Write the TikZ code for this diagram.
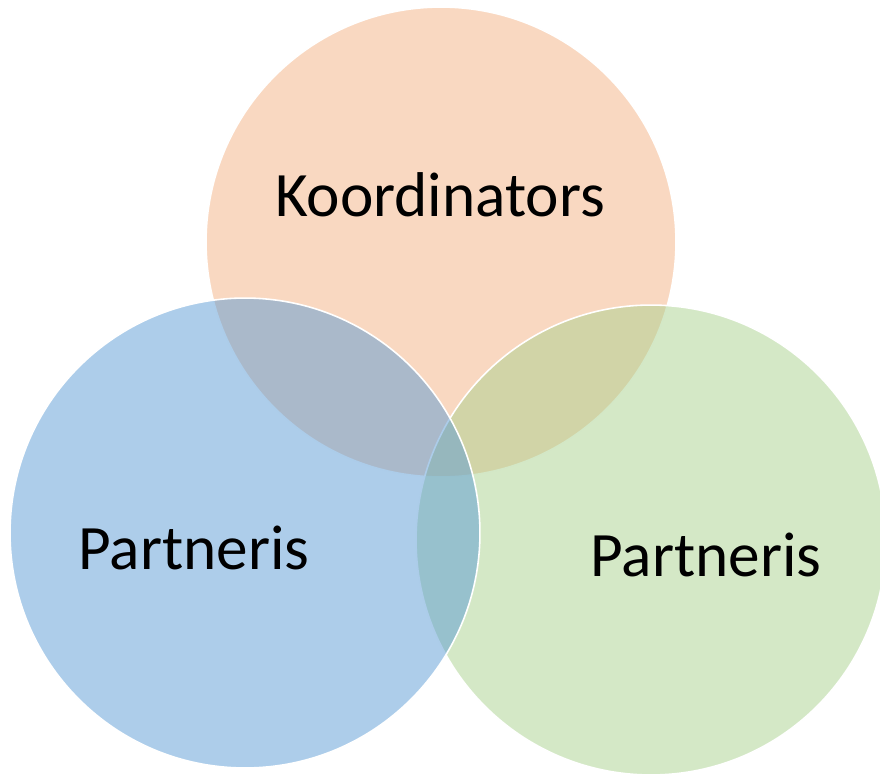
\documentclass[tikz,border=0pt]{standalone}
\usepackage{fontspec}
\setmainfont{Carlito}
\usetikzlibrary{positioning}

\definecolor{coordorange}{HTML}{F4B183}
\definecolor{partblue}{HTML}{5B9BD5}
\definecolor{partgreen}{HTML}{A9D18E}

\begin{document}
\begin{tikzpicture}[
    x=0.02cm,
    y=-0.02cm,
    every node/.style={font=\fontsize{36}{40}\selectfont},
    setcircle/.style={circle, draw=white, line width=0.9pt, fill opacity=0.5, draw opacity=1, minimum size=9.4cm, inner sep=0pt},
    setlabel/.style={text=black, inner sep=0pt}
  ]
  \useasboundingbox (0,0) rectangle (880,775);
  \begin{scope}
    \clip (0,0) rectangle (880,775);
    %
    \node[setcircle, fill=coordorange] (coord) at (441,242) {};
    \node[setcircle, fill=partgreen] (partB) at (651,540) {};
    \node[setcircle, fill=partblue] (partA) at (245,533) {};
  \end{scope}

  %
  \node[setlabel] (coordtext) at (440,195) {Koordinators};
  \node[setlabel] (partAtext) at (194,548) {Partneris};
  \node[setlabel] (partBtext) at (706,555) {Partneris};
\end{tikzpicture}
\end{document}
